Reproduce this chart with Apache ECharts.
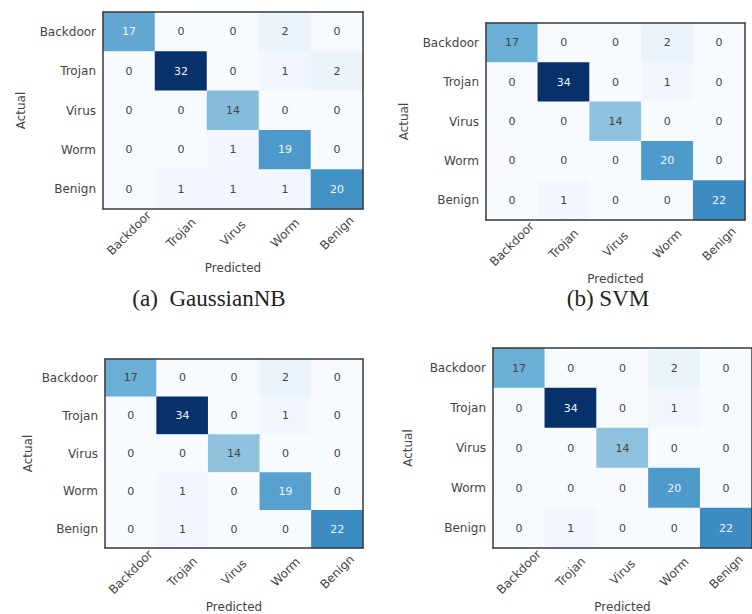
<!DOCTYPE html>
<html>
<head>
<meta charset="utf-8">
<script src="https://cdn.jsdelivr.net/npm/echarts@6/dist/echarts.min.js"></script>
<style>
  html, body { margin: 0; padding: 0; background: #fff; }
  #chart { width: 752px; height: 614px; }
</style>
</head>
<body>
<div id="chart"></div>
<script>
'use strict';

// class labels, same order on both axes
var classes = ['Backdoor', 'Trojan', 'Virus', 'Worm', 'Benign'];

// confusion matrices, rows = actual, cols = predicted
var cmGaussianNB = [
  [17, 0, 0, 2, 0],
  [0, 32, 0, 1, 2],
  [0, 0, 14, 0, 0],
  [0, 0, 1, 19, 0],
  [0, 1, 1, 1, 20]
];
var cmSVM = [
  [17, 0, 0, 2, 0],
  [0, 34, 0, 1, 0],
  [0, 0, 14, 0, 0],
  [0, 0, 0, 20, 0],
  [0, 1, 0, 0, 22]
];
var cmThird = [
  [17, 0, 0, 2, 0],
  [0, 34, 0, 1, 0],
  [0, 0, 14, 0, 0],
  [0, 1, 0, 19, 0],
  [0, 1, 0, 0, 22]
];
var cmFourth = [
  [17, 0, 0, 2, 0],
  [0, 34, 0, 1, 0],
  [0, 0, 14, 0, 0],
  [0, 0, 0, 20, 0],
  [0, 1, 0, 0, 22]
];

var captions = ['(a)  GaussianNB', '(b) SVM'];

var blues = ['#f7fbff', '#deebf7', '#c6dbef', '#9ecae1', '#6baed6',
  '#4292c6', '#2171b5', '#08519c', '#08306b'];

var matrices = [cmGaussianNB, cmSVM, cmThird, cmFourth];
var boxes = [
  { left: 103, top: 12, width: 260, height: 197, yGap: 76 },
  { left: 486, top: 23, width: 259, height: 197, yGap: 76 },
  { left: 105, top: 359, width: 258, height: 198, yGap: 71 },
  { left: 493, top: 348, width: 266, height: 204, yGap: 79 }
];

var font = 'DejaVu Sans';
var lineCol = '#3a3a3a';
var grids = [], xAxes = [], yAxes = [], series = [], visualMaps = [];

matrices.forEach(function (cm, p) {
  var box = boxes[p];
  var max = 0;
  cm.forEach(function (row) { row.forEach(function (v) { if (v > max) max = v; }); });

  grids.push({ left: box.left, top: box.top, width: box.width, height: box.height });

  var common = {
    type: 'category',
    data: classes,
    gridIndex: p,
    z: 5,
    axisLine: { lineStyle: { color: lineCol, width: 1.5 } },
    axisTick: { alignWithLabel: true, length: 3, lineStyle: { color: '#777' } },
    splitLine: { show: false }
  };

  xAxes.push(Object.assign({}, common, {
    position: 'bottom',
    name: 'Predicted',
    nameLocation: 'middle',
    nameGap: 53,
    nameTextStyle: { fontFamily: font, fontSize: 12, color: '#444' },
    axisLabel: {
      rotate: 45, align: 'center', verticalAlign: 'middle', margin: 24,
      fontFamily: font, fontSize: 12, color: '#444'
    }
  }));
  xAxes.push(Object.assign({}, common, { position: 'top', axisLabel: { show: false } }));

  yAxes.push(Object.assign({}, common, {
    position: 'left',
    inverse: true,
    name: 'Actual',
    nameLocation: 'middle',
    nameGap: box.yGap,
    nameRotate: 90,
    nameTextStyle: { fontFamily: font, fontSize: 12, color: '#444' },
    axisLabel: { margin: 7, fontFamily: font, fontSize: 12, color: '#444' }
  }));
  yAxes.push(Object.assign({}, common, { position: 'right', inverse: true, axisLabel: { show: false } }));

  var data = [];
  cm.forEach(function (row, i) {
    row.forEach(function (v, j) {
      data.push({
        value: [j, i, v],
        label: { color: v > max / 2 ? '#eef4fb' : '#444' }
      });
    });
  });

  visualMaps.push({
    type: 'continuous', show: false, seriesIndex: p,
    min: 0, max: max, inRange: { color: blues }
  });

  series.push({
    type: 'heatmap',
    xAxisIndex: 2 * p,
    yAxisIndex: 2 * p,
    data: data,
    label: { show: true, fontFamily: font, fontSize: 11 },
    itemStyle: { borderWidth: 0 },
    emphasis: { disabled: true }
  });
});

var titles = [
  { text: captions[0], left: 204, top: 282 },
  { text: captions[1], left: 603, top: 282 }
].map(function (t) {
  return {
    text: t.text, left: t.left, top: t.top, textAlign: 'center',
    textStyle: { fontFamily: 'Liberation Serif', fontSize: 23, fontWeight: 'normal', color: '#222' }
  };
});

var myChart = echarts.init(document.getElementById('chart'), null, { renderer: 'svg' });
myChart.setOption({
  animation: false,
  backgroundColor: '#fff',
  title: titles,
  grid: grids,
  xAxis: xAxes,
  yAxis: yAxes,
  visualMap: visualMaps,
  series: series
});
</script>
</body>
</html>
